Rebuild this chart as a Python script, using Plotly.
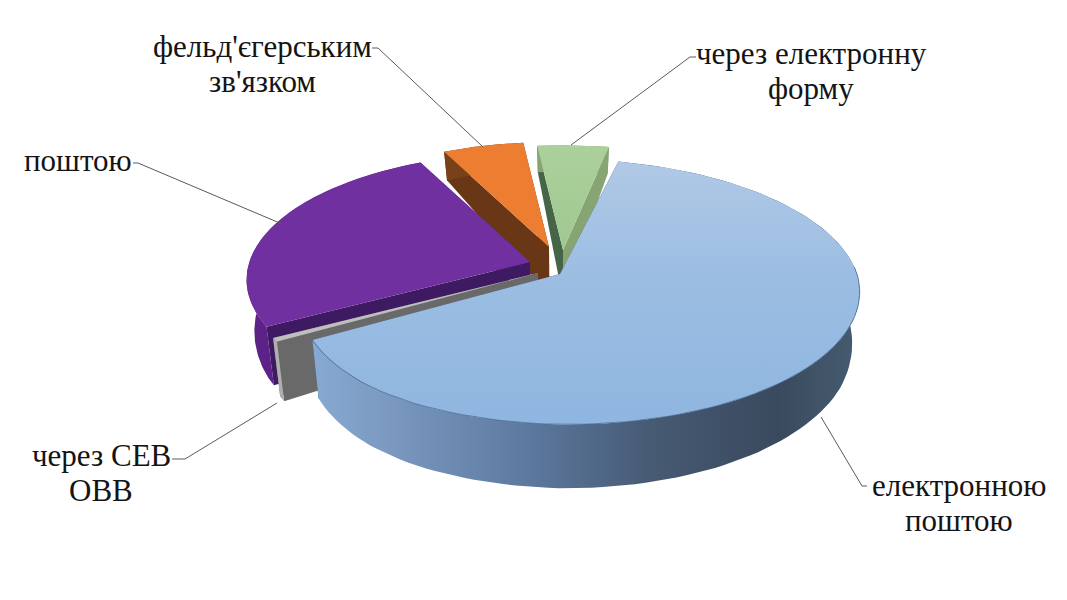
import numpy as np
import plotly.graph_objects as go

# ---- data (percent) ----
categories = ["електронною<br>поштою", "через СЕВ<br>ОВВ", "поштою",
              "фельд'єгерським<br>зв'язком", "через електронну<br>форму"]
values = [62.8, 0.55, 25.8, 5.5, 4.85]
first_slice_angle = 13.0

# ---- styles / geometry ----
A, B, K = 297.0, 132.0, 0.148
CONVERGE = 0.025
apex = [(560, 274), (538, 273), (530, 262), (549, 247), (563, 250)]
radii = [1.0, 0.95, 0.945, 0.9, 0.9]
blue_profile_angle = [13, 90, 150, 180, 207, 219, 239]
blue_profile_radius = [1.0, 1.0, 0.985, 0.975, 0.957, 0.943, 0.905]
top_fill = [
    dict(type="vertical", colorscale=[[0, "rgb(143,182,224)"], [0.55, "rgb(155,189,226)"], [1, "rgb(176,201,230)"]]),
    "rgb(190,190,190)", "rgb(112,48,160)", "rgb(236,125,49)",
    dict(type="vertical", colorscale=[[0, "rgb(160,200,145)"], [1, "rgb(172,208,155)"]]),
]
wall_fill = [
    dict(type="horizontal", colorscale=[[0, "rgb(135,170,210)"], [0.12, "rgb(125,155,195)"], [0.4, "rgb(92,120,158)"],
                                        [0.62, "rgb(70,90,115)"], [0.85, "rgb(58,74,94)"], [1, "rgb(70,92,112)"]]),
    "rgb(175,175,175)", "rgb(92,34,135)", "rgb(120,65,25)", "rgb(135,165,115)",
]
cut_start = ["rgb(60,75,100)", "rgb(105,105,105)", "rgb(62,26,98)", "rgb(105,55,22)", "rgb(70,100,72)"]
cut_end = ["rgb(60,75,100)", "rgb(105,105,105)", "rgb(92,34,135)", "rgb(105,55,22)", "rgb(135,165,115)"]
edge = ["rgb(70,105,150)", None, None, None, None]
draw_order = [4, 3, 2, 1, 0]

label_lines_y = [(485, 520), (455, 490), (160, None), (46, 81), (53, 88)]
label_x = [959, 101, 78, 262, 811]
leaders = [
    ([867, 862, 821], [486, 486, 417]),
    ([172, 185, 277], [459, 459, 403]),
    ([133, 138, 282], [163, 163, 224]),
    ([372, 378, 483], [48, 48, 147]),
    ([696, 690, 571], [57, 57, 145]),
]


def project(i, theta, frac=1.0):
    t = np.radians(theta)
    r = radii[i] * frac
    if i == 0:
        r = r * np.interp(theta, blue_profile_angle, blue_profile_radius)
    u, v = np.sin(t) * r, -np.cos(t) * r
    s = 1.0 / (1.0 - K * v)
    x = apex[i][0] + A * u * s
    y = apex[i][1] + B * v * s
    d = np.interp(v, [-1.0, 0.4, 1.0], [24.0, 58.0, 64.0])
    xb = x - (x - 560.0) * CONVERGE
    return x, y, xb, y + d


def poly(xs, ys, fill):
    kw = dict(fillgradient=fill) if isinstance(fill, dict) else dict(fillcolor=fill)
    return go.Scatter(x=list(xs) + [xs[0]], y=list(ys) + [ys[0]], mode="lines", fill="toself",
                      line=dict(width=0), hoverinfo="skip", **kw)


fig = go.Figure()
spans = []
a0 = first_slice_angle
for val in values:
    a1 = a0 + val * 3.6
    spans.append((a0, a1))
    a0 = a1

for i in draw_order:
    s0, s1 = spans[i]
    th = np.linspace(s0, s1, 120)
    x, y, xb, yb = project(i, th)
    cx, cy, cxb, cb = project(i, 0.0, 0.0)
    fig.add_trace(poly([cx, x[-1], xb[-1], cxb], [cy, y[-1], yb[-1], cb], cut_end[i]))
    fig.add_trace(poly([cx, x[0], xb[0], cxb], [cy, y[0], yb[0], cb], cut_start[i]))
    fig.add_trace(poly(list(x) + list(xb[::-1]), list(y) + list(yb[::-1]), wall_fill[i]))
    fig.add_trace(poly([cx] + list(x), [cy] + list(y), top_fill[i]))
    if edge[i]:
        front = y > cy - 10
        fig.add_trace(go.Scatter(x=x[front], y=y[front], mode="lines",
                                 line=dict(width=0.8, color=edge[i]), hoverinfo="skip"))

for lx, ly in leaders:
    fig.add_trace(go.Scatter(x=lx, y=ly, mode="lines", line=dict(width=1, color="rgb(90,90,90)"), hoverinfo="skip"))

for text, px, ys in zip(categories, label_x, label_lines_y):
    for line, py in zip(text.split("<br>"), ys):
        fig.add_annotation(x=px, y=py, text=line, showarrow=False, xanchor="center", yanchor="middle",
                           font=dict(family="Liberation Serif", size=31, color="rgb(20,20,20)"))

fig.update_layout(width=1067, height=600, margin=dict(l=0, r=0, t=0, b=0), showlegend=False,
                  paper_bgcolor="white", plot_bgcolor="white", hovermode=False,
                  xaxis=dict(range=[0, 1067], visible=False, fixedrange=True),
                  yaxis=dict(range=[600, 0], visible=False, fixedrange=True))
fig.write_html("out.html", config={"displayModeBar": False},
               post_script="document.body.style.margin='0';")
